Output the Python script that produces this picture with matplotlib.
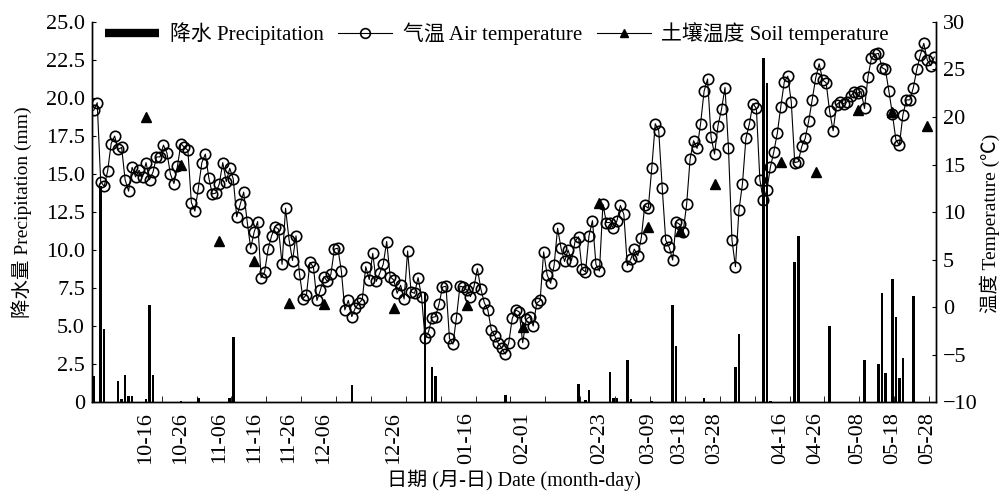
import numpy as np
import pandas as pd
import matplotlib
matplotlib.use('Agg')
import matplotlib.pyplot as plt
from matplotlib.lines import Line2D

plt.rcParams['font.family'] = ['Liberation Serif', 'Noto Sans CJK SC']
plt.rcParams['font.size'] = 14
plt.rcParams['axes.unicode_minus'] = True

start = pd.Timestamp('2018-10-01')

# daily air temperature (degC), 10-01 .. 05-30
air_temp = [
    20.7, 21.5, 13.2, 12.7, 14.35, 17.2, 18.0, 16.6, 16.8, 13.4,
    12.2, 14.7, 13.7, 14.4, 13.7, 15.2, 13.4, 14.2, 15.8, 15.8,
    17.05, 16.2, 14.0, 13.0, 14.8, 17.2, 16.8, 16.5, 11.0, 10.1,
    12.5, 15.2, 16.1, 13.6, 11.9, 12.0, 12.95, 15.2, 13.2, 14.6,
    13.5, 9.5, 10.8, 12.1, 9.0, 6.2, 7.9, 9.0, 3.1, 3.7,
    6.1, 7.5, 8.45, 8.2, 4.5, 10.4, 7.1, 4.9, 7.5, 3.5,
    0.9,
    1.3, 4.7, 4.2, 0.7, 1.8, 3.2, 2.7, 3.45, 6.1, 6.2,
    3.8, -0.3, 0.7, -1.0, -0.1, 0.4, 0.8, 4.25, 2.9, 5.65,
    2.7, 3.55, 4.5, 6.9, 3.2, 2.85, 1.45, 2.3, 0.85, 5.9,
    1.6, 1.45, 3.1, 1.1, -3.3, -2.6, -1.1, -1.0, 0.3, 2.1,
    2.2, -3.3, -3.9, -1.1, 2.2, 2.1, 1.8, 1.1, 2.1, 4.05,
    1.9, 0.45, -0.3, -2.4, -3.05, -3.8, -4.35, -4.95,
    -3.75, -1.2, -0.3, -0.5, -3.75, -1.3, -1.0, -2.0, 0.4, 0.7,
    5.8, 3.4, 2.5, 4.4, 8.3, 6.2, 4.8, 6.0, 4.9, 6.9,
    7.4, 4.0, 3.7, 7.5, 9.1, 4.5, 3.8, 10.8, 8.9, 8.9,
    8.3, 9.05, 10.7, 9.75, 4.35, 5.05, 6.1, 5.4, 7.3, 10.7,
    10.4, 14.6, 19.3, 18.55, 12.55, 7.05, 6.3, 4.95, 8.95, 8.7,
    7.9, 10.8, 15.6, 17.5, 16.7, 19.3, 22.7, 24.0, 17.9, 16.1,
    19.1, 20.8, 23.1, 16.7, 7.05, 4.25, 10.2, 12.95, 17.75, 19.3,
    21.4, 20.9, 13.4, 11.3, 12.3, 14.7, 16.35, 18.3, 21.1, 23.7,
    24.3, 21.6, 15.2, 15.3, 16.9, 17.75, 19.6, 21.8, 24.1, 25.6,
    23.9, 23.6, 20.6, 18.55, 21.3, 21.6, 21.4, 21.6, 22.2, 22.6,
    22.5, 22.7, 20.9, 24.25, 26.2, 26.6, 26.7, 25.2, 25.0, 22.7,
    20.3, 17.6, 17.05, 20.2, 21.8, 21.8, 23.1, 25.0, 26.5, 27.75,
    26.0, 25.4, 26.3,
]

# soil temperature sampling dates and values (degC)
soil_dates = ['2018-10-16', '2018-10-26', '2018-11-06', '2018-11-16', '2018-11-26',
              '2018-12-06', '2018-12-26', '2019-01-16', '2019-02-01', '2019-02-23',
              '2019-03-09', '2019-03-18', '2019-03-28', '2019-04-16', '2019-04-26',
              '2019-05-08', '2019-05-18', '2019-05-28']
soil_temp = [20.0, 14.9, 7.0, 4.9, 0.4, 0.3, -0.1, 0.2, -2.1, 11.0,
             8.4, 8.0, 13.0, 15.3, 14.2, 20.7, 20.5, 19.1]

# precipitation: day index (from 10-01) and amount (mm)
rain_day = [0, 2, 3, 7, 8, 9, 10, 11, 15, 16, 17, 25, 30, 39, 40, 74, 95, 97, 98, 118,
            139, 141, 142, 148, 149, 150, 153, 154, 160, 166, 167, 175, 184, 185,
            192, 193, 194, 201, 202, 211, 221, 225, 226, 227, 229, 230, 231, 232, 235]
rain_mm = [1.7, 14.2, 4.8, 1.4, 0.2, 1.8, 0.4, 0.4, 0.2, 6.4, 1.8, 0.05, 0.3, 0.3, 4.3,
           1.1, 7.25, 2.3, 1.7, 0.5, 1.2, 0.15, 0.8, 2.0, 0.25, 0.25, 2.8, 0.2, 0.1,
           6.4, 3.7, 0.25, 2.3, 4.5, 22.6, 21.0, 0.1, 9.2, 10.9, 5.0, 2.8, 2.5, 7.2,
           1.9, 8.1, 5.6, 1.6, 2.9, 7.0]

air_day = np.arange(len(air_temp))
soil_dt = pd.to_datetime(soil_dates)
soil_day = (soil_dt - start).days
tick_labels = soil_dt.strftime('%m-%d')

fig = plt.figure(figsize=(10.03, 4.94), dpi=100)
ax = fig.add_axes([0.0917, 0.186, 0.8415, 0.7695])
ax2 = ax.twinx()

ax.bar(rain_day, rain_mm, width=0.75, color='black', zorder=2)
ax2.plot(air_day, air_temp, '-', color='black', lw=0.8, marker='o', ms=7.5,
         mfc='none', mec='black', mew=1.2, zorder=3)
ax2.plot(soil_day, soil_temp, linestyle='none', marker='^', color='black', ms=7, zorder=4)

ax.set_xlim(-0.5, 241.5)
ax.set_ylim(0, 25)
ax2.set_ylim(-10, 30)

ax.set_xticks(soil_day)
ax.set_xticklabels(tick_labels, rotation=90)
ax.set_xticks(np.arange(9.5, 242, 10), minor=True)
ax.tick_params(axis='x', which='major', length=0, pad=7, labelsize=16)
ax.tick_params(axis='x', which='minor', direction='in', length=4)

ax.set_yticks(np.arange(0, 25.1, 2.5))
ax.set_yticklabels(['0' if v == 0 else f'{v:.1f}' for v in np.arange(0, 25.1, 2.5)])
ax.tick_params(axis='y', direction='in', length=3, pad=5, labelsize=16)
ax2.set_yticks(np.arange(-10, 31, 5))
ax2.tick_params(axis='y', direction='in', length=3, pad=5, labelsize=16)

for a in (ax, ax2):
    a.spines['top'].set_visible(False)
    for s in ('left', 'right', 'bottom'):
        a.spines[s].set_linewidth(1.0)

ax.set_ylabel('降水量 Precipitation (mm)')
ax.yaxis.set_label_coords(-0.071, 0.5)
ax2.set_ylabel('温度 Temperature (℃)', rotation=90)
ax2.yaxis.set_label_coords(1.052, 0.47)
ax.set_xlabel('日期 (月-日) Date (month-day)', labelpad=4, fontsize=14.5)

h1 = Line2D([], [], color='black', lw=6, solid_capstyle='butt')
h2 = Line2D([], [], color='black', lw=0.8, marker='o', ms=7, mfc='none', mew=1.2)
h3 = Line2D([], [], color='black', lw=0.8, marker='^', ms=6)
ax2.legend([h1, h2, h3], ['降水 Precipitation', '气温 Air temperature', '土壤温度 Soil temperature'],
           loc='upper center', bbox_to_anchor=(0.48, 1.048), ncol=3, frameon=False,
           fontsize=15, handlelength=2.6, handletextpad=0.5, columnspacing=0.7)

fig.savefig('out.png', dpi=100)
